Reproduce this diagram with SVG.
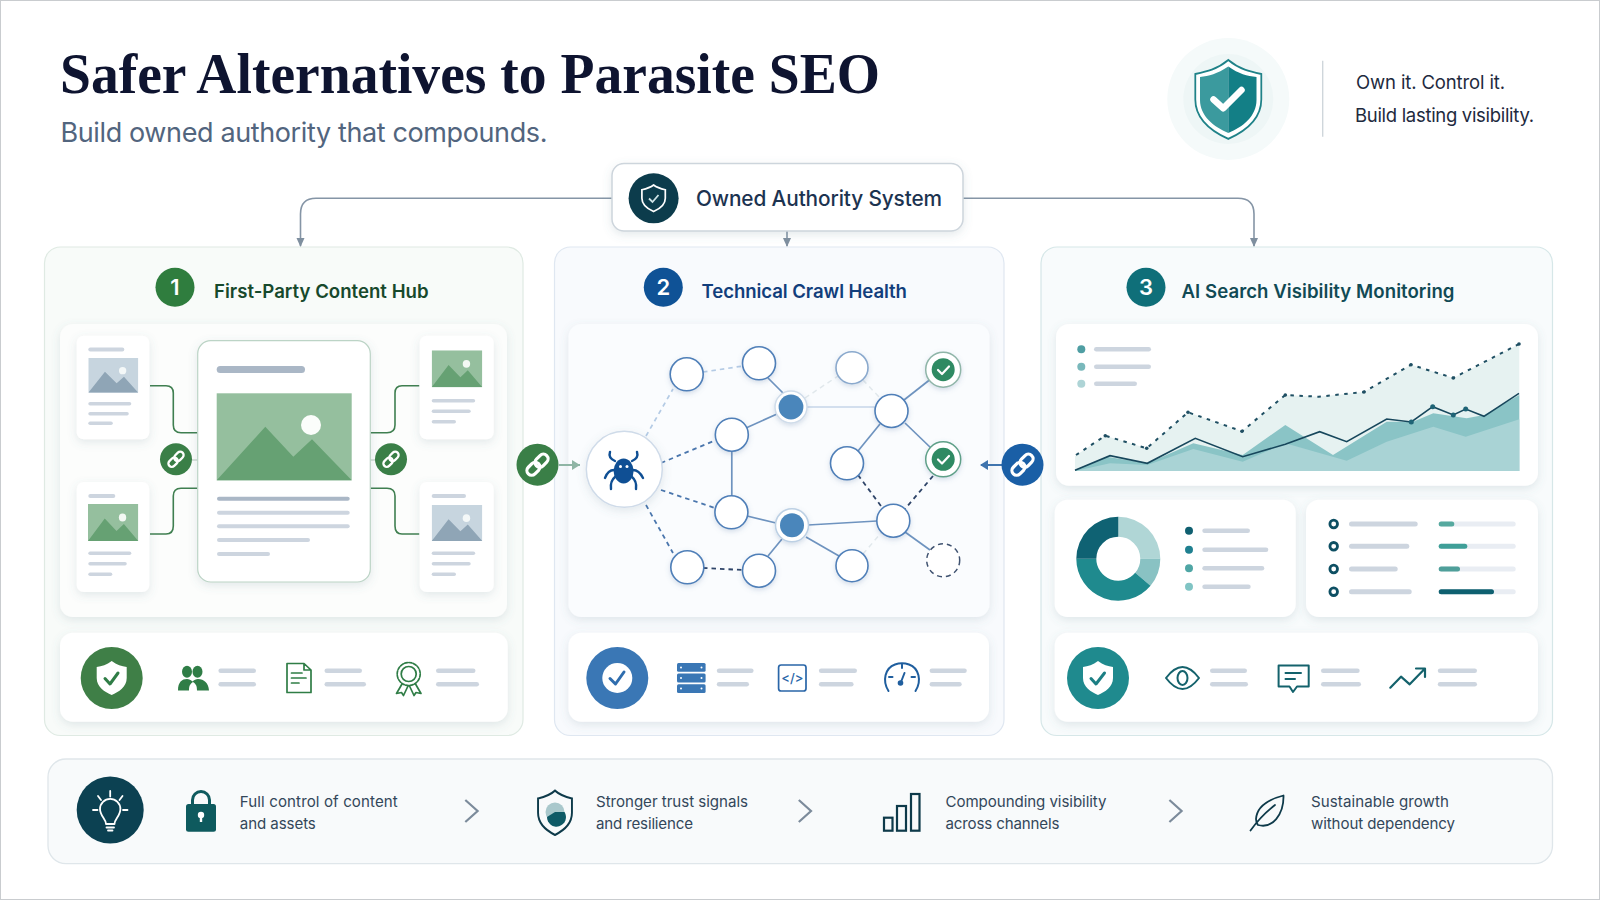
<svg xmlns="http://www.w3.org/2000/svg" width="1600" height="900" viewBox="0 0 1600 900">
<style>
text{font-family:Inter,"Liberation Sans",sans-serif}
.title{font-family:"Liberation Serif",serif;font-weight:700;font-size:56px;fill:#0e1430}
.sub{font-size:27px;fill:#52657e}
.tag{font-size:18.500px;fill:#1e2a3e}
.top{font-size:20.800px;font-weight:500;fill:#1c3350}
.ph{font-size:18.600px;font-weight:600}
.num{font-size:22px;font-weight:600;fill:#fff;text-anchor:middle}
.ben{font-size:15.100px;fill:#33475a}
.panel{stroke-width:1.2}
.card{fill:#fff;filter:url(#sh)}
.bar{fill:#cdd5df}
.bar2{fill:#aab7c6}
.wire{fill:none;stroke:#3f7f50;stroke-width:1.6}
.head{fill:none;stroke:#8595a6;stroke-width:1.6}
.e1{stroke:#6e93bf;stroke-width:1.700;fill:none}
.e2{stroke:#c6d6e8;stroke-width:1.500;fill:none}
.d1{stroke:#4a76ad;stroke-width:1.800;stroke-dasharray:4.500 4;fill:none}
.d2{stroke:#b4cbe5;stroke-width:1.700;stroke-dasharray:4.500 4;fill:none}
.d3{stroke:#e1e8ec;stroke-width:1.500;stroke-dasharray:5 4;fill:none}
.d4{stroke:#2e4468;stroke-width:1.800;stroke-dasharray:4.500 4;fill:none}
.n{fill:#fff;stroke:#4f7fb8;stroke-width:1.6;filter:url(#sh2)}
.chk{fill:none;stroke:#fff;stroke-linecap:round;stroke-linejoin:round}
.ic{fill:none;stroke-linecap:round;stroke-linejoin:round}
.chev{fill:none;stroke:#7c8b9b;stroke-width:2.2}
</style>
<defs>
<filter id="sh" x="-20%" y="-20%" width="140%" height="150%"><feDropShadow dx="0" dy="3" stdDeviation="5" flood-color="#5a7a88" flood-opacity=".16"/></filter>
<filter id="sh2" x="-40%" y="-40%" width="180%" height="190%"><feDropShadow dx="0" dy="2" stdDeviation="2.5" flood-color="#5a7aa8" flood-opacity=".25"/></filter>
<marker id="ah" markerWidth="10" markerHeight="10" refX="8" refY="4.5" orient="auto" markerUnits="userSpaceOnUse"><path d="M0 0.5L9 4.5L0 8.5Z" fill="#7f8f9f"/></marker>
<path id="shield" d="M0-17C5-13 10-12 15-11V0C15 9 7 14 0 17C-7 14-15 9-15 0V-11C-10-12-5-13 0-17Z"/>
<symbol id="tg" viewBox="0 0 150 104" preserveAspectRatio="none"><rect width="150" height="104" fill="#95bf9e"/><circle cx="103" cy="38" r="11" fill="#f4f8f4"/><path d="M0 104L50 41L85 76L107 56L150 104Z" fill="#66a173"/></symbol>
<symbol id="tb" viewBox="0 0 150 104" preserveAspectRatio="none"><rect width="150" height="104" fill="#c7d5df"/><circle cx="103" cy="38" r="11" fill="#f4f8f8"/><path d="M0 104L50 41L85 76L107 56L150 104Z" fill="#8fa5b6"/></symbol>
<g id="link"><g fill="none" stroke="#fff" stroke-width="3.200" transform="rotate(-45)"><rect x="-13" y="-4.700" width="14.500" height="9.400" rx="4.700"/><rect x="-1.500" y="-4.700" width="14.500" height="9.400" rx="4.700"/></g></g>
</defs>

<rect x="0.5" y="0.5" width="1599" height="899" fill="#fff" stroke="#c9cccf"/>

<g id="header">
<text class="title" x="60" y="93" textLength="820" lengthAdjust="spacingAndGlyphs">Safer Alternatives to Parasite SEO</text>
<text class="sub" x="60.500" y="142" textLength="487">Build owned authority that compounds.</text>
</g>

<g id="tagline">
<circle cx="1228.300" cy="99" r="61" fill="#f5fafa"/>
<circle cx="1228.300" cy="99" r="45" fill="#eef6f6"/>
<use href="#shield" transform="translate(1228.300 99.500) scale(2.2 2.32)" fill="#fff" stroke="#1f8288" stroke-width=".8"/>
<path d="M1228.300 66.500C1217 74 1209 76 1200 77V100C1200 116 1214 127 1228.300 133Z" fill="#3b9a9e"/>
<path d="M1228.300 66.500C1239 74 1247 76 1256.500 77V100C1256.500 116 1243 127 1228.300 133Z" fill="#137f86"/>
<path class="chk" d="M1213.500 99.500L1223.300 108.300L1241.500 90" stroke-width="6.500"/>
<path d="M1322.700 60.700V136.700" stroke="#cfd6db" stroke-width="1.400"/>
<text class="tag" x="1356" y="88.500" textLength="149">Own it. Control it.</text>
<text class="tag" x="1355" y="121.500" textLength="179">Build lasting visibility.</text>
</g>

<g id="panel-1"><rect class="panel" x="44.500" y="247" width="478.500" height="488.500" rx="16" fill="#f8fbf9" stroke="#dfeae3"/></g>
<g id="panel-2"><rect class="panel" x="554.500" y="247" width="449.500" height="488.500" rx="16" fill="#f8fafd" stroke="#dfe7f1"/></g>
<g id="panel-3"><rect class="panel" x="1041" y="247" width="511.500" height="488.500" rx="16" fill="#f8fbfc" stroke="#d6e7e8"/></g>

<g id="inner-surfaces">
<rect class="card" x="60" y="324" width="447" height="293" rx="13" style="fill:#fcfdfc"/>
<rect class="card" x="568.500" y="324" width="421" height="293" rx="13" style="fill:#fafcfe"/>
</g>

<g id="connectors">
<path class="head" d="M612 198.300H316Q300.500 198.300 300.500 214V246" marker-end="url(#ah)"/>
<path class="head" d="M787 231V246" marker-end="url(#ah)"/>
<path class="head" d="M963 198.300H1238Q1254 198.300 1254 214V246" marker-end="url(#ah)"/>
<path class="wire" d="M150 385.700H166Q173.300 385.700 173.300 393V425Q173.300 432.700 181 432.700H197.700"/>
<path class="wire" d="M150 534H166Q173.300 534 173.300 526V496Q173.300 488.300 181 488.300H197.700"/>
<path class="wire" d="M419.300 385.700H402Q395 385.700 395 393V425Q395 432.700 387 432.700H370.300"/>
<path class="wire" d="M419.300 534H402Q395 534 395 526V496Q395 488.300 387 488.300H370.300"/>
<path d="M192 460H198M370 460H376" stroke="#ccd8d0" stroke-width="1.500"/>
<path d="M559 465H580" stroke="#8fb5a5" stroke-width="2"/><path d="M580 465L572 460V470Z" fill="#8fb5a5"/>
<path d="M1002 465H981" stroke="#3f74ae" stroke-width="2"/><path d="M980 465L988 460V470Z" fill="#3f74ae"/>
<path class="d2" d="M646 436L673 389"/>
<path class="d1" d="M661 463L716 440"/>
<path class="d1" d="M661 490L715 508"/>
<path class="d1" d="M646 505L673 553"/>
<path class="d2" d="M703 372L743 366"/>
<path class="e1" d="M768 378L785 395"/>
<path class="e1" d="M746 428L777 414"/>
<path class="e1" d="M731.800 451V496"/>
<path class="d3" d="M805 398L838 376"/>
<path class="e2" d="M807 407H875"/>
<path class="d3" d="M863 380L880 398"/>
<path class="e1" d="M904 400L932 378"/>
<path class="e1" d="M880 424L858 451"/>
<path class="e1" d="M905 423L932 449"/>
<path class="d4" d="M858 475L881 506"/>
<path class="d4" d="M933 476L905 509"/>
<path class="e1" d="M747 516L776 523"/>
<path class="e1" d="M808 525L877 521"/>
<path class="e1" d="M782 539L768 556"/>
<path class="e1" d="M806 537L839 556"/>
<path class="d3" d="M863 554L881 533"/>
<path class="e1" d="M905 532L930 550"/>
<path class="d4" d="M703 568L743 570"/>
</g>

<g id="node-system">
<rect x="612" y="163.500" width="351" height="67.500" rx="12" fill="#fff" stroke="#cdd5dc" stroke-width="1.500" filter="url(#sh)"/>
<circle cx="653.600" cy="198.300" r="25" fill="#0c3c4c"/>
<use href="#shield" transform="translate(653.600 198.300) scale(.78)" fill="none" stroke="#fff" stroke-width="2.200"/>
<path d="M649 198.500L652.500 202L658.500 195" fill="none" stroke="#cfe3e6" stroke-width="1.800"/>
<text class="top" x="696" y="206" textLength="246">Owned Authority System</text>
</g>

<g id="title-1"><circle cx="175" cy="287.300" r="19.500" fill="#2f7d3e"/><text class="num" x="175" y="295">1</text><text class="ph" x="214" y="298" fill="#17492c" textLength="214.500">First-Party Content Hub</text></g>
<g id="title-2"><circle cx="663.300" cy="287.300" r="19.500" fill="#0f5296"/><text class="num" x="663.300" y="295">2</text><text class="ph" x="701.500" y="298" fill="#123e7c" textLength="205.500">Technical Crawl Health</text></g>
<g id="title-3"><circle cx="1146" cy="287.300" r="19.500" fill="#0f6f79"/><text class="num" x="1146" y="295">3</text><text class="ph" x="1181.500" y="298" fill="#114a55" textLength="273">AI Search Visibility Monitoring</text></g>

<g id="doc-tl"><rect class="card" x="76.700" y="335.700" width="72.600" height="103.600" rx="7"/><rect class="bar" x="88.300" y="347.500" width="36" height="4" rx="2"/><use href="#tb" x="88.300" y="358" width="50" height="34.700"/><rect class="bar" x="88.300" y="402" width="43" height="3.600" rx="1.800"/><rect class="bar" x="88.300" y="412" width="40.500" height="3.600" rx="1.800"/><rect class="bar" x="88.300" y="421.500" width="24.500" height="3.600" rx="1.800"/></g>
<g id="doc-bl"><rect class="card" x="76.700" y="482" width="72.600" height="110" rx="7"/><rect class="bar" x="88.300" y="494" width="27" height="4" rx="2"/><use href="#tg" x="88" y="504" width="50.300" height="37"/><rect class="bar" x="88.300" y="551.500" width="43" height="3.600" rx="1.800"/><rect class="bar" x="88.300" y="562" width="38.500" height="3.600" rx="1.800"/><rect class="bar" x="88.300" y="572.500" width="24" height="3.600" rx="1.800"/></g>
<g id="doc-tr"><rect class="card" x="419.700" y="335.700" width="74" height="103.600" rx="7"/><use href="#tg" x="431.700" y="350.300" width="50.600" height="37"/><rect class="bar" x="431.700" y="399" width="43.500" height="3.600" rx="1.800"/><rect class="bar" x="431.700" y="409.500" width="39" height="3.600" rx="1.800"/><rect class="bar" x="431.700" y="420" width="24.300" height="3.600" rx="1.800"/></g>
<g id="doc-br"><rect class="card" x="419.700" y="482" width="74" height="110" rx="7"/><rect class="bar" x="431.700" y="494" width="34.300" height="4" rx="2"/><use href="#tb" x="431.700" y="505" width="50.600" height="36"/><rect class="bar" x="431.700" y="551.500" width="43.500" height="3.600" rx="1.800"/><rect class="bar" x="431.700" y="562" width="39" height="3.600" rx="1.800"/><rect class="bar" x="431.700" y="572.500" width="24.300" height="3.600" rx="1.800"/></g>
<g id="doc-main">
<rect x="197.700" y="340.700" width="172.600" height="241.300" rx="13" fill="#fff" stroke="#bcd4c6" stroke-width="1.200" filter="url(#sh)"/>
<rect class="bar2" x="216.700" y="366" width="88.300" height="7" rx="3.500"/>
<rect x="216.700" y="393.300" width="135" height="87" fill="#95bf9e"/>
<circle cx="311" cy="425" r="10" fill="#fbfdfb"/>
<path d="M216.700 480.300L265.300 426.700L293.300 456.700L312 439.300L351.700 480.300Z" fill="#66a173"/>
<rect class="bar2" x="217" y="496.700" width="132.700" height="4" rx="2"/><rect class="bar" x="217" y="510.700" width="132.700" height="4" rx="2"/><rect class="bar" x="217" y="524.300" width="132.700" height="4" rx="2"/><rect class="bar" x="217" y="538" width="93" height="4" rx="2"/><rect class="bar" x="217" y="552" width="53" height="4" rx="2"/>
</g>
<g id="link-l"><circle cx="176" cy="459.300" r="16" fill="#3a7f47"/><use href="#link" transform="translate(176 459.300) scale(.72)"/></g>
<g id="link-r"><circle cx="391" cy="459.300" r="16" fill="#3a7f47"/><use href="#link" transform="translate(391 459.300) scale(.72)"/></g>
<g id="link-green"><circle cx="537.500" cy="464.700" r="21" fill="#3a7f47"/><use href="#link" transform="translate(537.500 464.700)"/></g>
<g id="link-blue"><circle cx="1022.500" cy="464.700" r="21" fill="#1a5fa6"/><use href="#link" transform="translate(1022.500 464.700)"/></g>

<g id="node-spider">
<circle cx="624.300" cy="469.300" r="38" fill="#fff" stroke="#cfdbe9" stroke-width="1.500" filter="url(#sh)"/>
<ellipse cx="623.600" cy="471" rx="10" ry="12.500" fill="#0f4f94"/>
<circle cx="620.500" cy="466.500" r="1.500" fill="#fff"/><circle cx="627" cy="466.500" r="1.500" fill="#fff"/>
<path class="ic" stroke="#0f4f94" stroke-width="2.400" d="M615 461Q608 458 610 452M632 461Q639 458 637 452M614 470Q608 470 605 478M633 470Q639 470 643 478M615 477Q610 481 611 489M632 477Q637 481 636 489"/>
</g>
<g id="c1"><circle class="n" cx="686.700" cy="374.300" r="16.500"/></g>
<g id="c2"><circle class="n" cx="759" cy="363.300" r="16.500"/></g>
<g id="c3"><circle class="n" cx="852" cy="367.700" r="16" style="stroke:#8aa9cd"/></g>
<g id="c4"><circle cx="943.200" cy="369.700" r="17.500" fill="#fff" stroke="#8fb5a8" stroke-width="1.500" filter="url(#sh2)"/><circle cx="943.200" cy="369.700" r="11.500" fill="#2f8a63"/><path class="chk" d="M938 370L942 374L949 366.500" stroke-width="2.200"/></g>
<g id="c5"><circle cx="791" cy="407" r="16" fill="#fff" stroke="#cfdcea" stroke-width="1.500" filter="url(#sh2)"/><circle cx="791" cy="407" r="12.400" fill="#4a86bb"/></g>
<g id="c6"><circle class="n" cx="731.800" cy="434.700" r="16.500"/></g>
<g id="c7"><circle class="n" cx="891.500" cy="411" r="16.500"/></g>
<g id="c8"><circle class="n" cx="847" cy="463.300" r="16.500"/></g>
<g id="c9"><circle cx="943.200" cy="459.300" r="17.500" fill="#fff" stroke="#5fa088" stroke-width="1.500" filter="url(#sh2)"/><circle cx="943.200" cy="459.300" r="11.500" fill="#2f8a63"/><path class="chk" d="M938 459.500L942 463.500L949 456" stroke-width="2.200"/></g>
<g id="c10"><circle class="n" cx="731.400" cy="512.300" r="16.500"/></g>
<g id="c11"><circle cx="792" cy="525.300" r="16.500" fill="#fff" stroke="#bcd0e4" stroke-width="1.500" filter="url(#sh2)"/><circle cx="792" cy="525.300" r="12" fill="#4a86bb"/></g>
<g id="c12"><circle class="n" cx="893.300" cy="520.700" r="16.500"/></g>
<g id="c13"><circle class="n" cx="687.300" cy="567.300" r="16.500"/></g>
<g id="c14"><circle class="n" cx="759" cy="570.700" r="16.500"/></g>
<g id="c15"><circle class="n" cx="852" cy="565.700" r="16"/></g>
<g id="c16"><circle cx="943.200" cy="560.300" r="16.500" fill="#fff" stroke="#3f5270" stroke-width="1.500" stroke-dasharray="5 4"/></g>

<g id="chart-card">
<rect class="card" x="1056" y="324" width="482" height="161.700" rx="13"/>
<circle cx="1081.300" cy="349.300" r="4" fill="#4f9ea3"/><circle cx="1081.300" cy="366.700" r="4" fill="#79b8bb"/><circle cx="1081.300" cy="383.700" r="4" fill="#aed4d6"/>
<rect class="bar" x="1094" y="347" width="57" height="4.600" rx="2.300"/><rect class="bar" x="1094" y="364.400" width="57" height="4.600" rx="2.300"/><rect class="bar" x="1094" y="381.400" width="43" height="4.600" rx="2.300"/>
<path d="M1075 456L1105.300 435.700L1146.700 448.300L1188 412.300L1242 431.300L1285.300 395L1318.700 396.700L1364 392L1411 364.700L1453.300 378L1519.300 344V471H1075Z" fill="#e6f2f1"/>
<path d="M1075 470L1106.700 456.700L1147.300 463.300L1193.300 443.300L1242.700 455L1285.300 425L1333 455L1386.700 421.700L1413 421.700L1433.300 413.300L1466.700 418.300L1484 415L1519.300 395V471H1075Z" fill="#8ac4c6"/>
<path d="M1075 471L1110 463.300L1147.300 465L1193.300 449L1242.700 461.700L1285.300 443.300L1346.700 460.700L1386.700 441.700L1433.300 426.700L1465.700 436.700L1519.300 419.300V471Z" fill="#a9d3d5"/>
<path d="M1076 455L1105.300 435.700L1146.700 448.300L1188 412.300L1242 431.300L1285.300 395L1318.700 396.700L1364 392L1411 364.700L1453.300 378L1519 344" fill="none" stroke="#1f4f63" stroke-width="2" stroke-dasharray="3.500 5.500"/>
<g fill="#1f4f63"><circle cx="1105.300" cy="435.700" r="1.800"/><circle cx="1146.700" cy="448.300" r="1.800"/><circle cx="1188" cy="412.300" r="1.800"/><circle cx="1242" cy="431.300" r="1.800"/><circle cx="1285.300" cy="395" r="1.800"/><circle cx="1364" cy="392" r="1.800"/><circle cx="1411" cy="364.700" r="1.800"/><circle cx="1453.300" cy="378" r="1.800"/><circle cx="1519" cy="344" r="1.800"/></g>
<path d="M1075 470.300L1110 455.700L1147.300 463.300L1195.300 438.300L1242.700 456.700L1285.300 444.300L1319.700 431.700L1346.700 441.700L1386.700 419L1411.300 422L1432.700 406.700L1453.300 415L1465.700 409L1484 416.300L1519 393.300" fill="none" stroke="#17475c" stroke-width="1.600"/>
<g fill="#1f6476"><circle cx="1411.300" cy="422" r="2.500"/><circle cx="1432.700" cy="406.700" r="2.500"/><circle cx="1453.300" cy="415" r="2.500"/><circle cx="1465.700" cy="409" r="2.500"/></g>
</g>

<g id="donut-card">
<rect class="card" x="1054.700" y="499.700" width="241" height="117.300" rx="13"/>
<path d="M1118.300 516.700A42 42 0 0 1 1160.300 558.700H1140.300A22 22 0 0 0 1118.300 536.700Z" fill="#b0d6d6"/>
<path d="M1160.300 558.700A42 42 0 0 1 1150.500 585.700L1135.200 572.800A22 22 0 0 0 1140.300 558.700Z" fill="#89c2c3"/>
<path d="M1150.500 585.700A42 42 0 0 1 1076.300 558.700H1096.300A22 22 0 0 0 1135.200 572.800Z" fill="#1f8a8e"/>
<path d="M1076.300 558.700A42 42 0 0 1 1118.300 516.700V536.700A22 22 0 0 0 1096.300 558.700Z" fill="#0f6273"/>
<circle cx="1189" cy="530.700" r="4" fill="#0f5f70"/><circle cx="1189" cy="549.700" r="4" fill="#1f8090"/><circle cx="1189" cy="568.300" r="4" fill="#4fa6a5"/><circle cx="1189" cy="586.700" r="4" fill="#80c4c4"/>
<rect class="bar" x="1202.300" y="528.400" width="47.700" height="4.600" rx="2.300"/><rect class="bar" x="1202.300" y="547.400" width="66" height="4.600" rx="2.300"/><rect class="bar" x="1202.300" y="566" width="62" height="4.600" rx="2.300"/><rect class="bar" x="1202.300" y="584.400" width="48.400" height="4.600" rx="2.300"/>
</g>

<g id="table-card">
<rect class="card" x="1306" y="499.700" width="232" height="117.300" rx="13"/>
<g fill="none" stroke="#0d4f63" stroke-width="2.800"><circle cx="1333.700" cy="524" r="3.800"/><circle cx="1333.700" cy="546.300" r="3.800"/><circle cx="1333.700" cy="569" r="3.800"/><circle cx="1333.700" cy="591.700" r="3.800"/></g>
<rect class="bar" x="1349" y="521.500" width="68.700" height="5" rx="2.500"/><rect class="bar" x="1349" y="543.800" width="60.300" height="5" rx="2.500"/><rect class="bar" x="1349" y="566.500" width="48.700" height="5" rx="2.500"/><rect class="bar" x="1349" y="589.200" width="62.700" height="5" rx="2.500"/>
<g fill="#e9edf3"><rect x="1438.700" y="521.500" width="77" height="5" rx="2.500"/><rect x="1438.700" y="543.800" width="77" height="5" rx="2.500"/><rect x="1438.700" y="566.500" width="77" height="5" rx="2.500"/><rect x="1438.700" y="589.200" width="77" height="5" rx="2.500"/></g>
<rect x="1438.700" y="521.500" width="15.600" height="5" rx="2.500" fill="#56a99f"/><rect x="1438.700" y="543.800" width="28.600" height="5" rx="2.500" fill="#3f9f98"/><rect x="1438.700" y="566.500" width="21.300" height="5" rx="2.500" fill="#4f9f9a"/><rect x="1438.700" y="589.200" width="55.300" height="5" rx="2.500" fill="#0e6070"/>
</g>

<g id="strip-1">
<rect class="card" x="60" y="632.700" width="447.700" height="89" rx="13"/>
<circle cx="111.700" cy="678" r="31" fill="#3f7f47"/>
<use href="#shield" transform="translate(111.700 678)" fill="#fff"/>
<path class="ic" stroke="#2f7d46" stroke-width="3" d="M105 678.500L110 684L118 673"/>
<g fill="#2f7d46"><ellipse cx="187" cy="671.700" rx="5" ry="6"/><ellipse cx="197.500" cy="671.700" rx="5" ry="6"/><path d="M178 690.500C178 682 182 679 187 679C189 679 191 680 192.500 681.500C194 680 196 679 198 679C204 679 208.500 683 209 690.500H197C197 686 196 684 193 682C190 684 189 686 189 690.500Z"/></g>
<rect class="bar" x="218.400" y="668.500" width="37.600" height="4.600" rx="2.300"/><rect class="bar" x="218.400" y="682" width="37.600" height="4.600" rx="2.300"/>
<path class="ic" stroke="#2f7d46" stroke-width="1.700" d="M287 663.500H304L311 670V692.500H287ZM304 663.500V670H311M291.500 673H302M291.500 678H306M291.500 683H299"/>
<rect class="bar" x="324.500" y="668.500" width="37.500" height="4.600" rx="2.300"/><rect class="bar" x="324.500" y="682" width="41.500" height="4.600" rx="2.300"/>
<g class="ic" stroke="#2f7d46" stroke-width="1.700"><circle cx="408.700" cy="674" r="11.500" stroke-dasharray="3 1.500"/><circle cx="408.700" cy="674" r="7.500"/><path d="M402 684L396.500 693.500L401.500 692.500L403.500 695.500L408 686M415.500 684L421 693.500L416 692.500L414 695.500L409.500 686"/></g>
<rect class="bar" x="436" y="668.500" width="39.500" height="4.600" rx="2.300"/><rect class="bar" x="436" y="682" width="43" height="4.600" rx="2.300"/>
</g>

<g id="strip-2">
<rect class="card" x="568.500" y="632.700" width="420.500" height="89" rx="13"/>
<circle cx="617.300" cy="678" r="31" fill="#3a77b5"/><circle cx="617.300" cy="678" r="15" fill="#fff"/>
<path class="ic" stroke="#2f6dae" stroke-width="3" d="M610 678.500L615.500 684L624 672"/>
<g fill="#3a77b5"><rect x="677" y="663" width="28.600" height="8.800" rx="1.500"/><rect x="677" y="673.600" width="28.600" height="8.800" rx="1.500"/><rect x="677" y="684.200" width="28.600" height="8.800" rx="1.500"/></g>
<g fill="#fff"><circle cx="681" cy="667.400" r="1"/><circle cx="701.500" cy="667.400" r="1"/><circle cx="681" cy="678" r="1"/><circle cx="701.500" cy="678" r="1"/><circle cx="681" cy="688.600" r="1"/><circle cx="701.500" cy="688.600" r="1"/></g>
<rect class="bar" x="716.800" y="668.500" width="36.800" height="4.600" rx="2.300"/><rect class="bar" x="716.800" y="682" width="32.200" height="4.600" rx="2.300"/>
<rect x="778.600" y="665" width="27.400" height="26" rx="2.500" fill="none" stroke="#2a66a8" stroke-width="1.700"/>
<text x="792.300" y="682.500" font-size="13" font-weight="500" fill="#2a66a8" text-anchor="middle">&lt;/&gt;</text>
<rect class="bar" x="818.900" y="668.500" width="38.100" height="4.600" rx="2.300"/><rect class="bar" x="818.900" y="682" width="34.700" height="4.600" rx="2.300"/>
<g class="ic" stroke="#1f5e9e" stroke-width="2"><path d="M888.500 691C882 681 885 668 895 664.500C899 663 905 663 909 664.500C919 668 922 681 915.500 691"/><path d="M902 664.500V668M889 677H892.500M915 677H911.500M904.500 673L901 682" /></g><circle cx="900.500" cy="683" r="2.800" fill="#1f5e9e"/>
<rect class="bar" x="929.600" y="668.500" width="37.200" height="4.600" rx="2.300"/><rect class="bar" x="929.600" y="682" width="32.100" height="4.600" rx="2.300"/>
</g>

<g id="strip-3">
<rect class="card" x="1054.700" y="632.700" width="483.300" height="89" rx="13"/>
<circle cx="1098" cy="678" r="31" fill="#1f8a8e"/>
<use href="#shield" transform="translate(1098 678)" fill="#fff"/>
<path class="ic" stroke="#1c7f84" stroke-width="3" d="M1091 678.500L1096 684L1104.500 673"/>
<g class="ic" stroke="#14626c" stroke-width="2"><path d="M1166 678C1172 670 1177 667 1182.500 667C1188 667 1193 670 1199 678C1193 686 1188 689 1182.500 689C1177 689 1172 686 1166 678Z"/><ellipse cx="1182.500" cy="678" rx="5" ry="7"/></g>
<rect class="bar" x="1210" y="668.500" width="37" height="4.600" rx="2.300"/><rect class="bar" x="1210" y="682" width="38" height="4.600" rx="2.300"/>
<path class="ic" stroke="#14626c" stroke-width="2" d="M1278.600 665.500H1308.700V686.500H1297L1293 692L1289.500 686.500H1278.600ZM1285.500 673H1301M1285.500 679H1295"/>
<rect class="bar" x="1321" y="668.500" width="38.700" height="4.600" rx="2.300"/><rect class="bar" x="1321" y="682" width="40" height="4.600" rx="2.300"/>
<path class="ic" stroke="#14626c" stroke-width="2.200" d="M1390.300 687.700L1401 676.700L1409.700 684.300L1424.500 669M1416 668.500H1425V677"/>
<rect class="bar" x="1437.800" y="668.500" width="39.200" height="4.600" rx="2.300"/><rect class="bar" x="1437.800" y="682" width="39.200" height="4.600" rx="2.300"/>
</g>

<g id="benefits">
<rect x="48" y="759" width="1504.500" height="104.700" rx="18" fill="#f8fafb" stroke="#dfe6ea" stroke-width="1.300"/>
<circle cx="110.200" cy="810" r="33.500" fill="#0c4152"/>
<g class="ic" stroke="#fff" stroke-width="1.800"><path d="M106 824C106 819 100 816 100 809A10 10 0 0 1 120.400 809C120.400 816 114.500 819 114.500 824ZM106.500 827.500H114M108 830.500H112.500M110.200 791V796.500M98 796L101 800M122.500 796L119.500 800M93 810H97.500M123 810H127.500"/></g>
<g id="ben-1"><path class="ic" stroke="#0e5a5e" stroke-width="3" d="M192.500 806V800A8.500 8.500 0 0 1 209.500 800V806"/><rect x="186" y="804" width="30" height="27.700" rx="2.500" fill="#0e5a5e"/><circle cx="201" cy="815" r="3.200" fill="#fff"/><path d="M201 815V822" stroke="#fff" stroke-width="2.400"/><text class="ben" x="239.800" y="806.500" textLength="158">Full control of content</text><text class="ben" x="239.800" y="829" textLength="76">and assets</text></g>
<path class="chev" d="M465.300 800L477.600 811L465.300 822"/>
<g id="ben-2"><use href="#shield" transform="translate(555 812.800) scale(1.130 1.300)" fill="none" stroke="#0e3a4a" stroke-width="1.700"/><circle cx="555" cy="812" r="9.500" fill="#a9c8cc"/><path d="M555 812L564.500 812A9.500 9.500 0 1 1 547 817Z" fill="#0e5a66"/><text class="ben" x="596" y="806.500" textLength="152">Stronger trust signals</text><text class="ben" x="596" y="829" textLength="97">and resilience</text></g>
<path class="chev" d="M798.800 800L811 811L798.800 822"/>
<g id="ben-3"><g fill="none" stroke="#0e3a4a" stroke-width="2.200"><rect x="884" y="817.700" width="8.500" height="13"/><rect x="897" y="806" width="9" height="24.700"/><rect x="911" y="794" width="8.500" height="36.700"/></g><text class="ben" x="945.500" y="806.500" textLength="161">Compounding visibility</text><text class="ben" x="945.500" y="829" textLength="114">across channels</text></g>
<path class="chev" d="M1169.400 800L1181.600 811L1169.400 822"/>
<g id="ben-4"><path class="ic" stroke="#0e3a4a" stroke-width="1.800" d="M1283.500 795.500C1270 799 1257 805 1256 819C1256 822 1257 824 1258 825C1272 829 1284 815 1283.500 795.500ZM1250.500 830.500C1258 820 1266 812 1275 805"/><text class="ben" x="1311" y="806.500" textLength="138">Sustainable growth</text><text class="ben" x="1311" y="829" textLength="144">without dependency</text></g>
</g>
</svg>
